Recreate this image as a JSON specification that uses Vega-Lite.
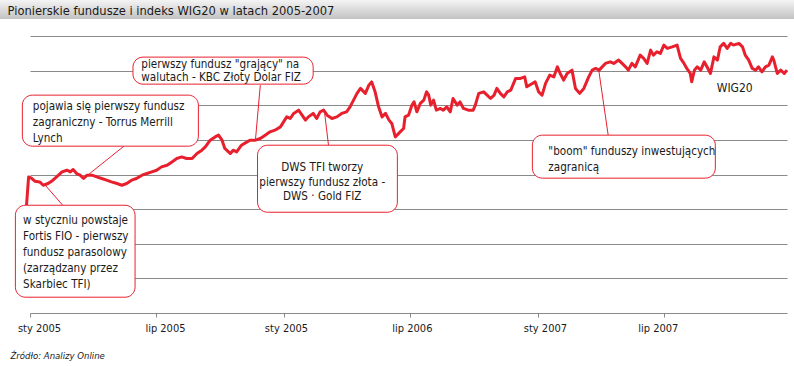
{
  "$schema": "https://vega.github.io/schema/vega-lite/v6.json",
  "width": 757,
  "height": 277,
  "autosize": {"type": "none"},
  "padding": {"left": 30, "top": 36, "right": 7, "bottom": 53},
  "background": "#ffffff",
  "config": {
    "view": {"stroke": null},
    "font": "DejaVu Sans Condensed, DejaVu Sans, sans-serif"
  },
  "datasets": {
    "band": [
      {"date": "2004-11-01", "date2": "2008-02-01", "value": 4520, "value2": 4244, "label": "Pionierskie fundusze i indeks WIG20 w latach 2005-2007"}
    ],
    "wig": [
      {"date": "2004-12-27", "value": 1556}, {"date": "2004-12-30", "value": 1965},
      {"date": "2005-01-03", "value": 1947}, {"date": "2005-01-08", "value": 1903},
      {"date": "2005-01-15", "value": 1893}, {"date": "2005-01-20", "value": 1845},
      {"date": "2005-01-27", "value": 1870}, {"date": "2005-02-03", "value": 1918},
      {"date": "2005-02-11", "value": 1990}, {"date": "2005-02-16", "value": 2038},
      {"date": "2005-02-23", "value": 2062}, {"date": "2005-02-28", "value": 2038},
      {"date": "2005-03-04", "value": 2072}, {"date": "2005-03-09", "value": 2014},
      {"date": "2005-03-14", "value": 1990}, {"date": "2005-03-19", "value": 1942},
      {"date": "2005-03-24", "value": 1990}, {"date": "2005-03-31", "value": 1990},
      {"date": "2005-04-07", "value": 1965}, {"date": "2005-04-14", "value": 1942},
      {"date": "2005-04-21", "value": 1918}, {"date": "2005-04-28", "value": 1893},
      {"date": "2005-05-06", "value": 1870}, {"date": "2005-05-13", "value": 1845},
      {"date": "2005-05-20", "value": 1870}, {"date": "2005-05-27", "value": 1918},
      {"date": "2005-06-03", "value": 1942}, {"date": "2005-06-11", "value": 1990},
      {"date": "2005-06-18", "value": 2014}, {"date": "2005-06-25", "value": 2038},
      {"date": "2005-07-02", "value": 2062}, {"date": "2005-07-09", "value": 2110},
      {"date": "2005-07-17", "value": 2134}, {"date": "2005-07-24", "value": 2182},
      {"date": "2005-07-31", "value": 2231}, {"date": "2005-08-07", "value": 2254},
      {"date": "2005-08-14", "value": 2231}, {"date": "2005-08-22", "value": 2231},
      {"date": "2005-08-29", "value": 2303}, {"date": "2005-09-05", "value": 2351},
      {"date": "2005-09-10", "value": 2399}, {"date": "2005-09-17", "value": 2496},
      {"date": "2005-09-24", "value": 2543}, {"date": "2005-09-29", "value": 2568},
      {"date": "2005-10-04", "value": 2496}, {"date": "2005-10-08", "value": 2376},
      {"date": "2005-10-16", "value": 2303}, {"date": "2005-10-20", "value": 2351},
      {"date": "2005-10-25", "value": 2327}, {"date": "2005-11-01", "value": 2423},
      {"date": "2005-11-09", "value": 2471}, {"date": "2005-11-13", "value": 2496},
      {"date": "2005-11-21", "value": 2496}, {"date": "2005-11-28", "value": 2520},
      {"date": "2005-12-05", "value": 2568}, {"date": "2005-12-12", "value": 2616},
      {"date": "2005-12-19", "value": 2640}, {"date": "2005-12-27", "value": 2688},
      {"date": "2006-01-02", "value": 2785}, {"date": "2006-01-05", "value": 2832},
      {"date": "2006-01-10", "value": 2809}, {"date": "2006-01-15", "value": 2882},
      {"date": "2006-01-22", "value": 2929}, {"date": "2006-01-27", "value": 2857},
      {"date": "2006-02-01", "value": 2785}, {"date": "2006-02-05", "value": 2832},
      {"date": "2006-02-12", "value": 2882}, {"date": "2006-02-17", "value": 2809},
      {"date": "2006-02-22", "value": 2905}, {"date": "2006-02-27", "value": 2929},
      {"date": "2006-03-04", "value": 2857}, {"date": "2006-03-11", "value": 2809},
      {"date": "2006-03-18", "value": 2832}, {"date": "2006-03-25", "value": 2882},
      {"date": "2006-04-01", "value": 2905}, {"date": "2006-04-06", "value": 2977},
      {"date": "2006-04-11", "value": 3074}, {"date": "2006-04-16", "value": 3171},
      {"date": "2006-04-21", "value": 3243}, {"date": "2006-04-28", "value": 3171},
      {"date": "2006-05-03", "value": 3290}, {"date": "2006-05-07", "value": 3338},
      {"date": "2006-05-12", "value": 3194}, {"date": "2006-05-17", "value": 2977},
      {"date": "2006-05-22", "value": 2832}, {"date": "2006-05-27", "value": 2882},
      {"date": "2006-06-01", "value": 2785}, {"date": "2006-06-05", "value": 2737},
      {"date": "2006-06-10", "value": 2543}, {"date": "2006-06-15", "value": 2593},
      {"date": "2006-06-17", "value": 2616}, {"date": "2006-06-22", "value": 2665},
      {"date": "2006-06-24", "value": 2832}, {"date": "2006-06-29", "value": 2857},
      {"date": "2006-07-04", "value": 3002}, {"date": "2006-07-07", "value": 3049},
      {"date": "2006-07-11", "value": 2905}, {"date": "2006-07-16", "value": 3026},
      {"date": "2006-07-21", "value": 3074}, {"date": "2006-07-25", "value": 3194},
      {"date": "2006-07-28", "value": 3146}, {"date": "2006-07-31", "value": 3002},
      {"date": "2006-08-04", "value": 3074}, {"date": "2006-08-08", "value": 2929},
      {"date": "2006-08-14", "value": 2954}, {"date": "2006-08-18", "value": 2929},
      {"date": "2006-08-23", "value": 2977}, {"date": "2006-08-28", "value": 2905},
      {"date": "2006-09-01", "value": 3098}, {"date": "2006-09-07", "value": 3002},
      {"date": "2006-09-11", "value": 3049}, {"date": "2006-09-16", "value": 2954},
      {"date": "2006-09-23", "value": 2929}, {"date": "2006-09-30", "value": 2929},
      {"date": "2006-10-03", "value": 3002}, {"date": "2006-10-08", "value": 3171},
      {"date": "2006-10-15", "value": 3194}, {"date": "2006-10-20", "value": 3146},
      {"date": "2006-10-25", "value": 3098}, {"date": "2006-10-30", "value": 3146},
      {"date": "2006-11-03", "value": 3243}, {"date": "2006-11-08", "value": 3171},
      {"date": "2006-11-13", "value": 3121}, {"date": "2006-11-18", "value": 3194},
      {"date": "2006-11-23", "value": 3218}, {"date": "2006-11-30", "value": 3387},
      {"date": "2006-12-07", "value": 3387}, {"date": "2006-12-13", "value": 3410},
      {"date": "2006-12-16", "value": 3266}, {"date": "2006-12-24", "value": 3315},
      {"date": "2006-12-28", "value": 3338}, {"date": "2007-01-02", "value": 3194},
      {"date": "2007-01-07", "value": 3146}, {"date": "2007-01-12", "value": 3315},
      {"date": "2007-01-18", "value": 3435}, {"date": "2007-01-24", "value": 3410},
      {"date": "2007-01-29", "value": 3555}, {"date": "2007-02-02", "value": 3459},
      {"date": "2007-02-07", "value": 3363}, {"date": "2007-02-12", "value": 3459},
      {"date": "2007-02-19", "value": 3507}, {"date": "2007-02-24", "value": 3243},
      {"date": "2007-03-02", "value": 3171}, {"date": "2007-03-08", "value": 3243},
      {"date": "2007-03-15", "value": 3410}, {"date": "2007-03-20", "value": 3507},
      {"date": "2007-03-25", "value": 3532}, {"date": "2007-03-30", "value": 3507},
      {"date": "2007-04-08", "value": 3604}, {"date": "2007-04-15", "value": 3627},
      {"date": "2007-04-20", "value": 3604}, {"date": "2007-04-27", "value": 3652},
      {"date": "2007-05-02", "value": 3604}, {"date": "2007-05-07", "value": 3555},
      {"date": "2007-05-11", "value": 3507}, {"date": "2007-05-16", "value": 3604},
      {"date": "2007-05-21", "value": 3555}, {"date": "2007-05-28", "value": 3724},
      {"date": "2007-06-02", "value": 3676}, {"date": "2007-06-07", "value": 3604},
      {"date": "2007-06-12", "value": 3796}, {"date": "2007-06-16", "value": 3724},
      {"date": "2007-06-21", "value": 3772}, {"date": "2007-06-26", "value": 3749},
      {"date": "2007-07-01", "value": 3869}, {"date": "2007-07-06", "value": 3821},
      {"date": "2007-07-13", "value": 3844}, {"date": "2007-07-20", "value": 3869},
      {"date": "2007-07-25", "value": 3676}, {"date": "2007-07-30", "value": 3604},
      {"date": "2007-08-03", "value": 3532}, {"date": "2007-08-08", "value": 3459},
      {"date": "2007-08-10", "value": 3338}, {"date": "2007-08-14", "value": 3507},
      {"date": "2007-08-18", "value": 3555}, {"date": "2007-08-23", "value": 3507},
      {"date": "2007-08-28", "value": 3627}, {"date": "2007-09-01", "value": 3555},
      {"date": "2007-09-06", "value": 3459}, {"date": "2007-09-11", "value": 3699},
      {"date": "2007-09-16", "value": 3652}, {"date": "2007-09-20", "value": 3844},
      {"date": "2007-09-25", "value": 3893}, {"date": "2007-09-30", "value": 3821},
      {"date": "2007-10-05", "value": 3893}, {"date": "2007-10-09", "value": 3869},
      {"date": "2007-10-17", "value": 3893}, {"date": "2007-10-22", "value": 3844},
      {"date": "2007-10-26", "value": 3724}, {"date": "2007-10-31", "value": 3652},
      {"date": "2007-11-05", "value": 3532}, {"date": "2007-11-10", "value": 3507},
      {"date": "2007-11-14", "value": 3555}, {"date": "2007-11-19", "value": 3483},
      {"date": "2007-11-24", "value": 3555}, {"date": "2007-11-29", "value": 3580},
      {"date": "2007-12-04", "value": 3699}, {"date": "2007-12-06", "value": 3652},
      {"date": "2007-12-11", "value": 3459}, {"date": "2007-12-16", "value": 3507},
      {"date": "2007-12-21", "value": 3459}, {"date": "2007-12-25", "value": 3507}
    ],
    "boxes": [
      {"note": "fortis", "date": "2004-12-11", "date2": "2005-06-01", "value": 1556, "value2": 228},
      {"note": "torrus", "date": "2004-12-21", "date2": "2005-08-31", "value": 3146, "value2": 2409},
      {"note": "kbc", "date": "2005-05-29", "date2": "2006-02-12", "value": 3695, "value2": 3305},
      {"note": "dws", "date": "2005-11-24", "date2": "2006-06-13", "value": 2423, "value2": 1455},
      {"note": "boom", "date": "2006-12-24", "date2": "2007-09-13", "value": 2568, "value2": 1947}
    ],
    "links": [
      {"note": "fortis", "date": "2005-02-17", "value": 1556, "date2": "2005-01-23", "value2": 1845},
      {"note": "torrus", "date": "2005-05-16", "value": 2409, "date2": "2005-03-23", "value2": 1975},
      {"note": "kbc", "date": "2005-11-28", "value": 3290, "date2": "2005-11-21", "value2": 2496},
      {"note": "dws", "date": "2006-03-06", "value": 2423, "date2": "2006-02-28", "value2": 2929},
      {"note": "boom", "date": "2007-04-12", "value": 2568, "date2": "2007-03-29", "value2": 3536}
    ],
    "notesWide": [
      {"date": "2004-12-22", "value": 1412, "label": " w styczniu powstaje\nFortis FIO - pierwszy\nfundusz parasolowy\n(zarządzany przez\nSkarbiec TFI)"},
      {"date": "2005-01-05", "value": 3059, "label": "pojawia się pierwszy fundusz\nzagraniczny - Torrus Merrill\nLynch"},
      {"date": "2007-01-16", "value": 2408, "label": "\"boom\" funduszy inwestujących\nzagranicą"}
    ],
    "notesKbc": [
      {"date": "2005-06-10", "value": 3666, "label": "pierwszy fundusz \"grający\" na\nwalutach - KBC Złoty Dolar FIZ"}
    ],
    "notesDws": [
      {"date": "2006-02-25", "value": 2178, "label": "DWS TFI tworzy\npierwszy fundusz złota -\nDWS · Gold FIZ"}
    ],
    "series": [
      {"date": "2007-09-15", "value": 3251, "label": "WIG20"}
    ]
  },
  "encoding": {
    "x": {
      "field": "date",
      "type": "temporal",
      "scale": {"domain": [{"year": 2005, "month": 1, "date": 1}, {"year": 2007, "month": 12, "date": 25}]},
      "axis": {
        "values": [
          {"year": 2005, "month": 1, "date": 1}, {"year": 2005, "month": 7, "date": 1},
          {"year": 2006, "month": 1, "date": 1}, {"year": 2006, "month": 7, "date": 1},
          {"year": 2007, "month": 1, "date": 1}, {"year": 2007, "month": 7, "date": 1}
        ],
        "labelExpr": "year(datum.value) == 2006 && month(datum.value) == 0 ? 'sty 2005' : (month(datum.value) == 0 ? 'sty ' : 'lip ') + year(datum.value)",
        "grid": false,
        "domainColor": "#8a8a8a",
        "tickColor": "#8a8a8a",
        "tickSize": 4,
        "labelPadding": 5,
        "labelFontSize": 11,
        "labelColor": "#1a1a1a",
        "labelFlush": false,
        "labelOverlap": false,
        "labelOffset": {
          "condition": [
            {"test": "year(datum.value) == 2005", "value": 9},
            {"test": "year(datum.value) == 2007 && month(datum.value) == 6", "value": -6},
            {"test": "year(datum.value) == 2007", "value": 7}
          ],
          "value": 2
        },
        "title": "Źródło: Analizy Online",
        "titleFontSize": 9.5,
        "titleFontStyle": "italic",
        "titleFontWeight": "normal",
        "titleColor": "#1a1a1a",
        "titleAlign": "left",
        "titleAnchor": "start",
        "titleBaseline": "alphabetic",
        "titleX": -20,
        "titleY": 45
      }
    },
    "y": {
      "field": "value",
      "type": "quantitative",
      "scale": {"domain": [0, 4000], "nice": false, "zero": true},
      "axis": {
        "values": [500, 1000, 1500, 2000, 2500, 3000, 3500, 4000],
        "grid": true,
        "gridColor": "#8a8a8a",
        "gridWidth": 1,
        "domain": false,
        "ticks": false,
        "labels": false,
        "title": null
      }
    }
  },
  "layer": [
    {
      "data": {"name": "band"},
      "mark": {
        "type": "rect",
        "fill": {
          "gradient": "linear", "x1": 0, "y1": 0, "x2": 0, "y2": 1,
          "stops": [{"offset": 0, "color": "#f4f4f4"}, {"offset": 1, "color": "#c2c2c2"}]
        },
        "strokeWidth": 0
      },
      "encoding": {"x2": {"field": "date2"}, "y2": {"field": "value2"}}
    },
    {
      "data": {"name": "band"},
      "mark": {"type": "text", "align": "left", "baseline": "alphabetic", "dx": 20, "dy": 15, "fontSize": 12.8, "color": "#1a1a1a"},
      "encoding": {"text": {"field": "label"}}
    },
    {
      "data": {"name": "wig"},
      "mark": {"type": "line", "color": "#e8202e", "strokeWidth": 3, "strokeJoin": "round"},
      "encoding": {}
    },
    {
      "data": {"name": "links"},
      "mark": {"type": "rule", "color": "#e8202e", "strokeWidth": 1},
      "encoding": {"x2": {"field": "date2"}, "y2": {"field": "value2"}}
    },
    {
      "data": {"name": "boxes"},
      "mark": {"type": "rect", "fill": "#ffffff", "stroke": "#e8202e", "strokeWidth": 1, "cornerRadius": 10},
      "encoding": {"x2": {"field": "date2"}, "y2": {"field": "value2"}}
    },
    {
      "data": {"name": "notesWide"},
      "mark": {"type": "text", "align": "left", "baseline": "top", "lineBreak": "\n", "lineHeight": 16, "fontSize": 11.6, "color": "#1a1a1a"},
      "encoding": {"text": {"field": "label"}}
    },
    {
      "data": {"name": "notesKbc"},
      "mark": {"type": "text", "align": "left", "baseline": "top", "lineBreak": "\n", "lineHeight": 13, "fontSize": 11.6, "color": "#1a1a1a"},
      "encoding": {"text": {"field": "label"}}
    },
    {
      "data": {"name": "notesDws"},
      "mark": {"type": "text", "align": "center", "baseline": "top", "lineBreak": "\n", "lineHeight": 14.5, "fontSize": 11.6, "color": "#1a1a1a"},
      "encoding": {"text": {"field": "label"}}
    },
    {
      "data": {"name": "series"},
      "mark": {"type": "text", "align": "left", "baseline": "middle", "fontSize": 12, "color": "#1a1a1a"},
      "encoding": {"text": {"field": "label"}}
    }
  ]
}
